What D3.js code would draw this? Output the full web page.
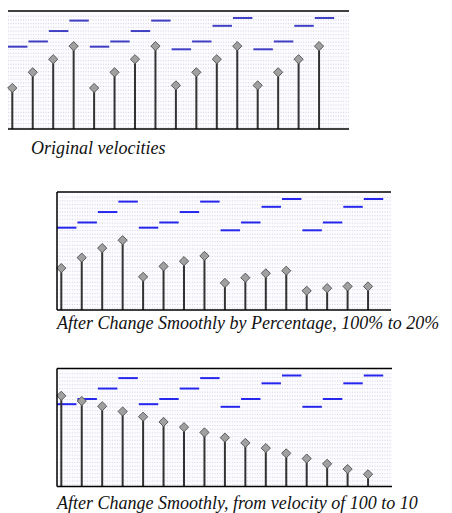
<!DOCTYPE html>
<html>
<head>
<meta charset="utf-8">
<script src="https://cdn.jsdelivr.net/npm/d3@7"></script>
<style>
  body { margin: 0; background: #fff; }
  svg { display: block; }
</style>
</head>
<body>
<svg id="chart" width="452" height="513"></svg>
<script>
// note data (beat, MIDI pitch)
const beats = [0, 1, 2, 3, 4, 5, 6, 7, 8, 9, 10, 11, 12, 13, 14, 15];
const pitches = [61, 63, 67, 71, 61, 63, 67, 71, 60, 63, 69, 72, 60, 63, 69, 72];

// velocities for each version
const velOriginal = [43, 61, 76, 91, 43, 61, 76, 91, 46, 61, 76, 91, 46, 61, 76, 91];
const velPercent = [44, 56, 67, 76, 34, 46, 52, 58, 27, 33, 38, 41, 18, 21, 23, 23];
const velRamp = [100, 94, 88, 82, 76, 70, 64, 58, 52, 46, 40, 34, 28, 22, 16, 10];

const captions = [
  "Original velocities",
  "After Change Smoothly by Percentage, 100% to 20%",
  "After Change Smoothly, from velocity of 100 to 10"
];

const panels = [
  { vel: velOriginal, x: 8, y: 11, w: 341, h: 118, leftBorder: false, noteColor: "#4040c4", capX: 31, capY: 154 },
  { vel: velPercent, x: 57, y: 192, w: 334, h: 118, leftBorder: true, noteColor: "#2626ee", capX: 57, capY: 329 },
  { vel: velRamp, x: 57, y: 368.5, w: 335, h: 118, leftBorder: true, noteColor: "#2626ee", capX: 57, capY: 509 }
];

const svg = d3.select("#chart");

panels.forEach((p, k) => {
  let g = svg.append("g").attr("transform", "translate(" + p.x + "," + p.y + ")");

  let x = d3.scaleLinear().domain([0, 16]).range([0, 327.2]);
  let yPitch = d3.scaleLinear().domain([72, 60]).range([7, 38.3]);
  let yVel = d3.scaleLinear().domain([0, 127]).range([p.h - 3.5, p.h - 3.5 - 127 * 0.872]);

  g.append("rect").attr("width", p.w).attr("height", p.h).attr("fill", "#fcfbff");

  // dotted piano-roll rows
  let rows = d3.range(1, 32).map((i) => i * 3.7 + 1.5).filter((v) => v < p.h - 1);
  g.selectAll(".row")
    .data(rows)
    .enter()
    .append("line")
    .attr("x1", 0)
    .attr("x2", p.w)
    .attr("y1", (d) => d)
    .attr("y2", (d) => d)
    .attr("stroke", "#d4d4dc")
    .attr("stroke-width", 1)
    .attr("stroke-dasharray", "1,1.5");

  // notes
  g.selectAll(".note")
    .data(beats)
    .enter()
    .append("line")
    .attr("x1", (d) => x(d))
    .attr("x2", (d) => x(d + 1) - 1)
    .attr("y1", (d, i) => yPitch(pitches[i]))
    .attr("y2", (d, i) => yPitch(pitches[i]))
    .attr("stroke", p.noteColor)
    .attr("stroke-width", 2);

  // velocity stems
  g.selectAll(".stem")
    .data(beats)
    .enter()
    .append("line")
    .attr("x1", (d) => x(d) + 4.3)
    .attr("x2", (d) => x(d) + 4.3)
    .attr("y1", p.h)
    .attr("y2", (d, i) => yVel(p.vel[i]))
    .attr("stroke", "#333")
    .attr("stroke-width", 2);

  g.selectAll(".dia")
    .data(beats)
    .enter()
    .append("path")
    .attr("transform", (d, i) => "translate(" + (x(d) + 4.3) + "," + yVel(p.vel[i]) + ")")
    .attr("d", "M0,-4.6L4.6,0L0,4.6L-4.6,0Z")
    .attr("fill", "#a0a0a0")
    .attr("stroke", "#5a5a5a")
    .attr("stroke-width", 1);

  // frame
  g.append("line").attr("x1", 0).attr("x2", p.w).attr("y1", 0).attr("y2", 0)
    .attr("stroke", "#000").attr("stroke-width", 1.5);
  g.append("line").attr("x1", 0).attr("x2", p.w).attr("y1", p.h).attr("y2", p.h)
    .attr("stroke", "#000").attr("stroke-width", 1.5);
  if (p.leftBorder) {
    g.append("line").attr("x1", 0).attr("x2", 0).attr("y1", 0).attr("y2", p.h)
      .attr("stroke", "#000").attr("stroke-width", 1.5);
  }

  svg.append("text")
    .attr("x", p.capX)
    .attr("y", p.capY)
    .attr("font-family", "'Liberation Serif', 'Times New Roman', serif")
    .attr("font-style", "italic")
    .attr("font-size", "18px")
    .attr("fill", "#111")
    .text(captions[k]);
});
</script>
</body>
</html>
